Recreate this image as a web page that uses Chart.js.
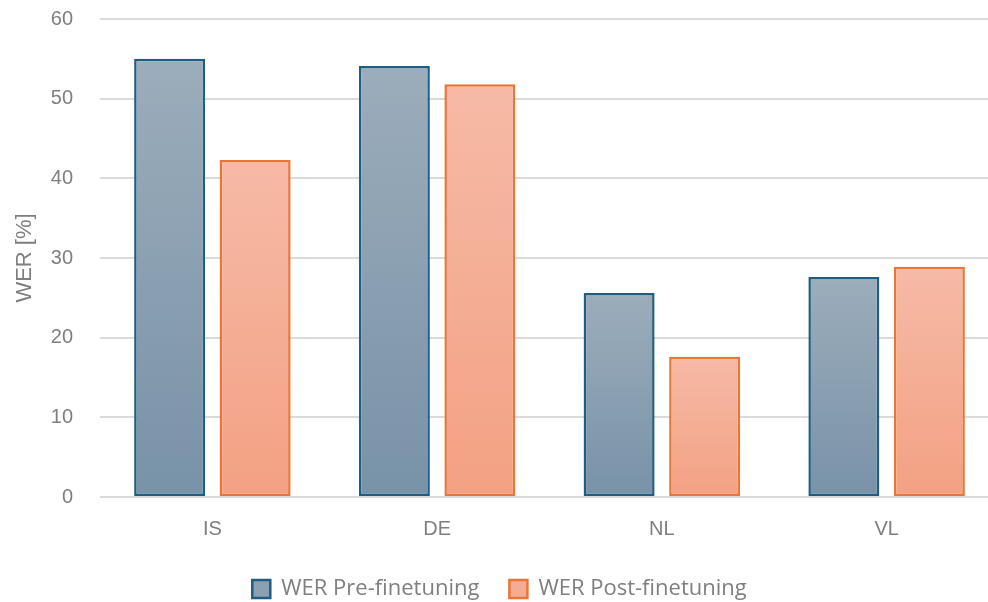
<!DOCTYPE html>
<html>
<head>
<meta charset="utf-8">
<script src="https://cdn.jsdelivr.net/npm/chart.js@4/dist/chart.umd.min.js"></script>
<style>
  html, body { margin: 0; padding: 0; background: #ffffff; overflow: hidden; }
  #wrap { width: 988px; height: 602px; overflow: hidden; }
  canvas { display: block; }
</style>
</head>
<body>
<div id="wrap"><canvas id="chart" width="1000" height="610"></canvas></div>
<script>
// Word error rate per language, before and after fine-tuning
const categories = ['IS', 'DE', 'NL', 'VL'];
const werPre = [55.0, 54.1, 25.6, 27.6];
const werPost = [42.3, 51.8, 17.6, 28.9];
const seriesNames = ['WER Pre-finetuning', 'WER Post-finetuning'];
const yTicks = [0, 10, 20, 30, 40, 50, 60];

const GREY = '#7f7f7f';
const GRID = '#dadada';

// Vertical gradient per bar: lighter at the top, deeper at the base
function barGradient(topColor, baseColor) {
  return (ctx) => {
    const chart = ctx.chart;
    const y = chart.scales && chart.scales.y;
    if (!y || ctx.type !== 'data' || !ctx.parsed) return baseColor;
    const yTop = y.getPixelForValue(ctx.parsed.y);
    const yBase = y.getPixelForValue(0);
    if (!isFinite(yTop) || !isFinite(yBase) || yTop === yBase) return baseColor;
    const g = chart.ctx.createLinearGradient(0, yTop, 0, yBase);
    g.addColorStop(0, topColor);
    g.addColorStop(1, baseColor);
    return g;
  };
}

const styles = [
  { top: '#9cadbb', base: '#7892a8', border: '#1f5d82', legendFill: '#8aa0b3' },
  { top: '#f6baa6', base: '#f3a183', border: '#eb7436', legendFill: '#f4ad95' }
];

new Chart(document.getElementById('chart'), {
  type: 'bar',
  data: {
    labels: categories,
    datasets: [werPre, werPost].map((vals, i) => ({
      label: seriesNames[i],
      data: vals,
      backgroundColor: barGradient(styles[i].top, styles[i].base),
      borderColor: styles[i].border,
      borderWidth: 2.5,
      borderSkipped: false,
      categoryPercentage: 0.761,
      barPercentage: 0.83
    }))
  },
  options: {
    responsive: false,
    devicePixelRatio: 1,
    animation: false,
    layout: { padding: { top: 19, right: 1, bottom: 0, left: 0 } },
    plugins: {
      tooltip: { enabled: false },
      legend: {
        position: 'bottom',
        labels: {
          font: { family: 'Open Sans', size: 22 },
          color: GREY,
          boxWidth: 18,
          boxHeight: 18,
          padding: 30,
          generateLabels: (chart) => chart.data.datasets.map((ds, i) => ({
            text: ds.label,
            fillStyle: styles[i].legendFill,
            strokeStyle: styles[i].border,
            lineWidth: 2.5,
            fontColor: GREY,
            datasetIndex: i,
            hidden: false
          }))
        }
      }
    },
    scales: {
      x: {
        afterFit: (scale) => { scale.height = 51; },
        grid: { display: false },
        border: { display: false },
        ticks: {
          color: GREY,
          font: { family: 'Liberation Sans', size: 20 },
          padding: 12
        }
      },
      y: {
        min: 0,
        max: 60,
        afterBuildTicks: (scale) => { scale.ticks = yTicks.map(v => ({ value: v })); },
        afterFit: (scale) => {
          scale.width = 100;
          scale.paddingTop = 0;
          scale.paddingBottom = 0;
        },
        grid: { color: GRID, lineWidth: 2, drawTicks: false },
        border: { display: false },
        ticks: {
          color: GREY,
          font: { family: 'Liberation Sans', size: 20 },
          padding: 27
        },
        title: {
          display: true,
          text: 'WER [%]',
          color: GREY,
          font: { family: 'Liberation Sans', size: 22 },
          padding: { top: 12, bottom: 0 }
        }
      }
    }
  }
});
</script>
</body>
</html>
